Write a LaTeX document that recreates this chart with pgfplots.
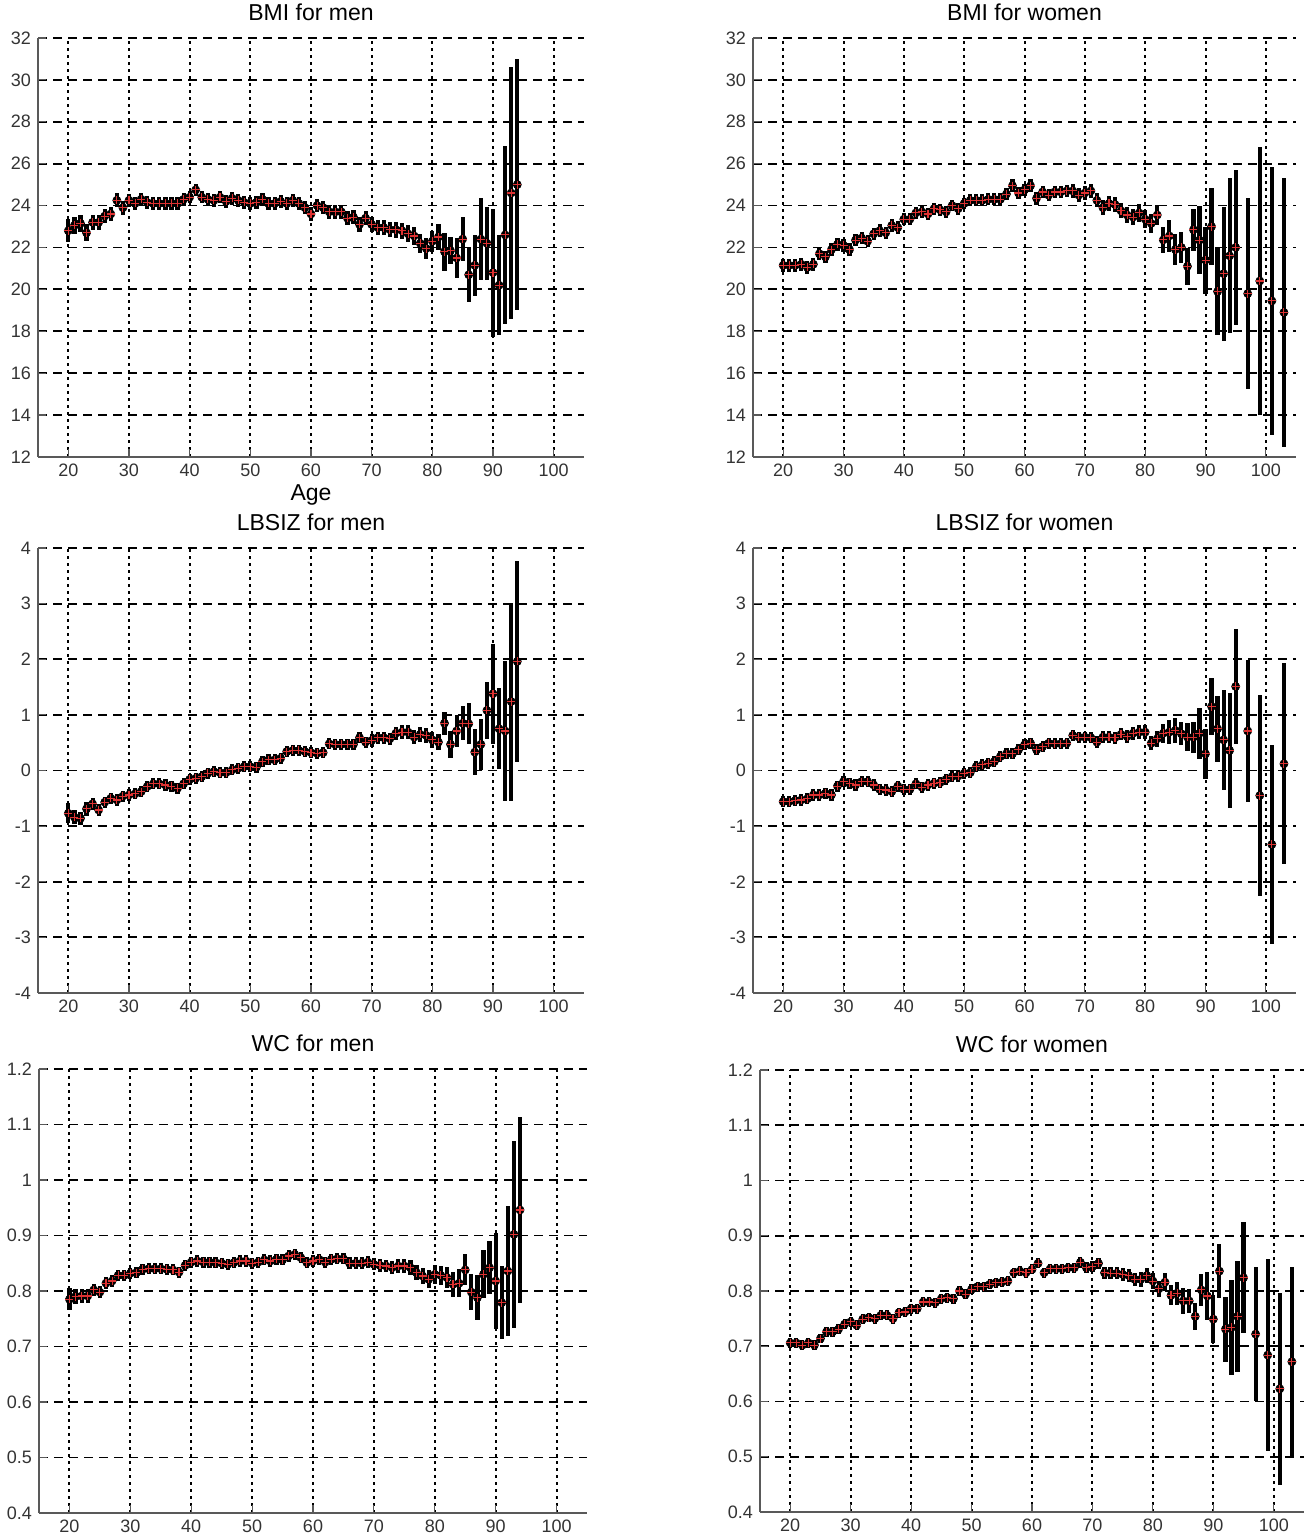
\documentclass[border=0pt]{standalone}
\usepackage{fontspec}
\setmainfont{Liberation Sans}
\usepackage{pgfplots}
\usepackage{pgfplotstable}
\pgfplotsset{compat=1.18}

% age, mean, half width of the interval
\pgfplotstableread{
a v e
20 22.8 0.55
21 23.05 0.42
22 23.15 0.4
23 22.7 0.4
24 23.2 0.36
25 23.2 0.36
26 23.5 0.35
27 23.6 0.35
28 24.25 0.33
29 23.9 0.33
30 24.25 0.32
31 24.1 0.32
32 24.3 0.3
33 24.15 0.3
34 24.1 0.3
35 24.1 0.3
36 24.1 0.3
37 24.1 0.3
38 24.1 0.3
39 24.3 0.3
40 24.4 0.3
41 24.75 0.3
42 24.4 0.3
43 24.3 0.3
44 24.25 0.3
45 24.4 0.3
46 24.2 0.3
47 24.35 0.3
48 24.25 0.3
49 24.15 0.3
50 24.1 0.3
51 24.15 0.3
52 24.3 0.3
53 24.1 0.3
54 24.1 0.3
55 24.2 0.3
56 24.1 0.3
57 24.25 0.3
58 24.1 0.3
59 23.9 0.32
60 23.6 0.32
61 24.0 0.32
62 23.9 0.32
63 23.7 0.32
64 23.7 0.32
65 23.7 0.32
66 23.4 0.34
67 23.45 0.34
68 23.1 0.34
69 23.4 0.34
70 23.1 0.35
71 22.95 0.35
72 22.95 0.36
73 22.85 0.36
74 22.85 0.38
75 22.8 0.38
76 22.65 0.4
77 22.55 0.42
78 22.2 0.46
79 21.95 0.5
80 22.3 0.5
81 22.5 0.6
82 21.8 0.9
83 21.85 0.65
84 21.5 0.95
85 22.4 1.05
86 20.7 1.3
87 21.15 1.45
88 22.4 1.95
89 22.2 1.75
90 20.8 3.05
91 20.2 2.4
92 22.6 4.25
93 24.6 6.0
94 25.0 6.0
}\bmimen

\pgfplotstableread{
a v e
20 21.15 0.32
21 21.15 0.32
22 21.15 0.3
23 21.2 0.3
24 21.05 0.3
25 21.2 0.3
26 21.7 0.3
27 21.55 0.3
28 21.9 0.3
29 22.15 0.3
30 22.1 0.3
31 21.9 0.3
32 22.35 0.3
33 22.45 0.3
34 22.3 0.3
35 22.65 0.3
36 22.8 0.3
37 22.7 0.3
38 23.05 0.3
39 22.95 0.3
40 23.35 0.3
41 23.35 0.28
42 23.65 0.28
43 23.7 0.28
44 23.6 0.28
45 23.85 0.28
46 23.8 0.28
47 23.7 0.28
48 24.0 0.28
49 23.85 0.28
50 24.1 0.28
51 24.25 0.28
52 24.25 0.28
53 24.25 0.28
54 24.3 0.28
55 24.3 0.28
56 24.3 0.28
57 24.55 0.3
58 24.95 0.3
59 24.6 0.3
60 24.75 0.3
61 24.95 0.3
62 24.35 0.3
63 24.65 0.3
64 24.5 0.3
65 24.65 0.3
66 24.65 0.3
67 24.7 0.3
68 24.7 0.32
69 24.5 0.32
70 24.6 0.32
71 24.7 0.32
72 24.25 0.34
73 23.9 0.35
74 24.1 0.35
75 24.05 0.35
76 23.75 0.36
77 23.55 0.38
78 23.45 0.38
79 23.65 0.42
80 23.35 0.42
81 23.15 0.46
82 23.55 0.5
83 22.36 0.6
84 22.55 0.75
85 21.9 0.75
86 22.0 0.74
87 21.1 0.88
88 22.85 1.0
89 22.35 1.63
90 21.4 1.6
91 23.0 1.83
92 19.9 2.1
93 20.75 3.2
94 21.6 3.7
95 22.0 3.7
97 19.8 4.55
99 20.4 6.4
101 19.45 6.4
103 18.9 6.4
}\bmiwomen

\pgfplotstableread{
a v e
20 -0.77 0.18
21 -0.84 0.13
22 -0.86 0.12
23 -0.69 0.12
24 -0.6 0.11
25 -0.71 0.11
26 -0.57 0.1
27 -0.5 0.1
28 -0.53 0.1
29 -0.46 0.1
30 -0.44 0.1
31 -0.42 0.1
32 -0.38 0.1
33 -0.29 0.1
34 -0.24 0.1
35 -0.24 0.1
36 -0.26 0.1
37 -0.28 0.1
38 -0.32 0.1
39 -0.24 0.1
40 -0.16 0.1
41 -0.14 0.1
42 -0.11 0.1
43 -0.05 0.1
44 -0.02 0.1
45 -0.04 0.1
46 -0.04 0.1
47 0.01 0.1
48 0.04 0.1
49 0.07 0.1
50 0.07 0.1
51 0.06 0.1
52 0.16 0.1
53 0.19 0.1
54 0.19 0.1
55 0.22 0.1
56 0.34 0.1
57 0.36 0.1
58 0.36 0.1
59 0.34 0.1
60 0.32 0.1
61 0.31 0.1
62 0.32 0.1
63 0.48 0.1
64 0.47 0.1
65 0.47 0.1
66 0.47 0.1
67 0.47 0.1
68 0.59 0.1
69 0.51 0.1
70 0.54 0.11
71 0.59 0.11
72 0.59 0.11
73 0.57 0.11
74 0.67 0.12
75 0.69 0.12
76 0.69 0.12
77 0.6 0.13
78 0.65 0.13
79 0.63 0.14
80 0.55 0.15
81 0.51 0.15
82 0.85 0.21
83 0.47 0.24
84 0.71 0.28
85 0.85 0.31
86 0.84 0.37
87 0.33 0.42
88 0.47 0.46
89 1.08 0.51
90 1.38 0.9
91 0.75 0.73
92 0.71 1.26
93 1.24 1.78
94 1.96 1.8
}\lbmen

\pgfplotstableread{
a v e
20 -0.56 0.1
21 -0.56 0.1
22 -0.54 0.1
23 -0.53 0.1
24 -0.51 0.1
25 -0.44 0.1
26 -0.44 0.1
27 -0.41 0.1
28 -0.44 0.1
29 -0.28 0.1
30 -0.2 0.1
31 -0.23 0.1
32 -0.26 0.1
33 -0.2 0.1
34 -0.2 0.1
35 -0.26 0.1
36 -0.34 0.1
37 -0.35 0.1
38 -0.38 0.1
39 -0.28 0.1
40 -0.34 0.1
41 -0.34 0.1
42 -0.24 0.1
43 -0.3 0.1
44 -0.26 0.1
45 -0.23 0.1
46 -0.22 0.1
47 -0.16 0.1
48 -0.11 0.1
49 -0.1 0.1
50 -0.05 0.1
51 -0.04 0.1
52 0.07 0.1
53 0.1 0.1
54 0.13 0.1
55 0.16 0.1
56 0.25 0.1
57 0.3 0.1
58 0.3 0.1
59 0.37 0.1
60 0.46 0.1
61 0.49 0.1
62 0.37 0.1
63 0.43 0.1
64 0.49 0.1
65 0.48 0.1
66 0.48 0.1
67 0.49 0.1
68 0.63 0.1
69 0.6 0.1
70 0.6 0.1
71 0.59 0.1
72 0.51 0.11
73 0.6 0.11
74 0.6 0.11
75 0.59 0.11
76 0.65 0.11
77 0.61 0.12
78 0.67 0.12
79 0.69 0.13
80 0.69 0.13
81 0.49 0.13
82 0.57 0.14
83 0.67 0.17
84 0.69 0.21
85 0.72 0.22
86 0.66 0.21
87 0.6 0.25
88 0.6 0.28
89 0.67 0.46
90 0.3 0.45
91 1.15 0.52
92 0.75 0.59
93 0.55 0.9
94 0.36 1.04
95 1.51 1.04
97 0.71 1.27
99 -0.45 1.8
101 -1.33 1.79
103 0.12 1.81
}\lbwomen

\pgfplotstableread{
a v e
20 0.785 0.02
21 0.79 0.014
22 0.791 0.013
23 0.791 0.012
24 0.802 0.011
25 0.798 0.011
26 0.814 0.011
27 0.818 0.011
28 0.828 0.01
29 0.828 0.01
30 0.832 0.01
31 0.833 0.01
32 0.839 0.01
33 0.84 0.01
34 0.84 0.01
35 0.84 0.01
36 0.839 0.01
37 0.838 0.01
38 0.834 0.01
39 0.846 0.01
40 0.852 0.01
41 0.854 0.01
42 0.852 0.01
43 0.852 0.01
44 0.851 0.01
45 0.85 0.01
46 0.848 0.01
47 0.851 0.01
48 0.854 0.01
49 0.854 0.01
50 0.85 0.01
51 0.852 0.01
52 0.856 0.01
53 0.854 0.01
54 0.857 0.01
55 0.856 0.01
56 0.863 0.01
57 0.866 0.01
58 0.86 0.01
59 0.851 0.01
60 0.854 0.01
61 0.857 0.01
62 0.852 0.01
63 0.857 0.01
64 0.858 0.01
65 0.858 0.01
66 0.85 0.011
67 0.85 0.011
68 0.85 0.011
69 0.852 0.011
70 0.848 0.011
71 0.846 0.011
72 0.845 0.011
73 0.842 0.012
74 0.845 0.012
75 0.845 0.013
76 0.842 0.013
77 0.833 0.014
78 0.827 0.015
79 0.821 0.016
80 0.83 0.017
81 0.828 0.017
82 0.824 0.019
83 0.812 0.022
84 0.814 0.025
85 0.838 0.028
86 0.798 0.033
87 0.788 0.04
88 0.83 0.043
89 0.842 0.048
90 0.818 0.086
91 0.779 0.066
92 0.836 0.117
93 0.902 0.169
94 0.946 0.167
}\wcmen

\pgfplotstableread{
a v e
20 0.706 0.009
21 0.706 0.009
22 0.702 0.009
23 0.706 0.009
24 0.702 0.009
25 0.714 0.009
26 0.726 0.009
27 0.726 0.009
28 0.731 0.009
29 0.74 0.009
30 0.744 0.009
31 0.738 0.009
32 0.749 0.009
33 0.752 0.009
34 0.75 0.009
35 0.756 0.009
36 0.756 0.009
37 0.75 0.009
38 0.761 0.009
39 0.762 0.009
40 0.768 0.009
41 0.768 0.009
42 0.78 0.009
43 0.78 0.009
44 0.779 0.009
45 0.786 0.009
46 0.788 0.009
47 0.786 0.009
48 0.8 0.009
49 0.794 0.009
50 0.803 0.009
51 0.808 0.009
52 0.808 0.009
53 0.812 0.009
54 0.815 0.009
55 0.816 0.009
56 0.818 0.009
57 0.833 0.009
58 0.836 0.009
59 0.833 0.009
60 0.839 0.009
61 0.85 0.009
62 0.833 0.009
63 0.84 0.009
64 0.84 0.009
65 0.84 0.009
66 0.842 0.009
67 0.842 0.009
68 0.852 0.01
69 0.842 0.01
70 0.844 0.01
71 0.85 0.01
72 0.833 0.011
73 0.832 0.011
74 0.832 0.011
75 0.83 0.011
76 0.828 0.012
77 0.821 0.012
78 0.821 0.013
79 0.828 0.014
80 0.818 0.015
81 0.804 0.015
82 0.816 0.016
83 0.792 0.018
84 0.796 0.021
85 0.782 0.023
86 0.782 0.022
87 0.754 0.024
88 0.802 0.029
89 0.791 0.044
90 0.749 0.044
91 0.836 0.049
92 0.731 0.059
93 0.734 0.086
94 0.754 0.1
95 0.824 0.1
97 0.722 0.122
99 0.684 0.174
101 0.623 0.174
103 0.672 0.172
}\wcwomen

\definecolor{ptred}{RGB}{220,50,50}

\pgfplotsset{
  panel/.style={
    scale only axis,
    anchor=south west,
    xmin=15, xmax=105,
    xtick={20,30,...,100},
    axis lines*=left,
    axis line style={black!65, line width=0.9pt},
    tick align=inside,
    major tick length=4pt,
    tick style={black!65, line width=0.6pt},
    grid=major,
    x grid style={black, line width=1pt, dash pattern=on 1.3pt off 2.2pt},
    y grid style={black, line width=0.9pt, dash pattern=on 4.5pt off 3pt},
    ticklabel style={font=\fontsize{9}{10}\selectfont, text=black!80},
    /pgf/number format/assume math mode=true,
    title style={font=\fontsize{11.5}{13}\selectfont, yshift=-1pt},
    label style={font=\fontsize{11.5}{13}\selectfont},
    clip=false,
  },
  bars/.style={only marks, mark=none,
    error bars/.cd, y dir=both, y explicit, error mark=none,
    error bar style={line width=2.1pt, black}},
  pts/.style={only marks, mark=+, mark size=2pt,
    mark options={ptred, line width=0.55pt}},
}

\begin{document}
\begin{tikzpicture}
\useasboundingbox (0,0) rectangle (654.5pt,768pt);

\begin{axis}[panel, at={(19pt,539.5pt)}, width=273pt, height=209.5pt,
  ymin=12, ymax=32, ytick={12,14,...,32},
  title={BMI for men}, xlabel={Age}, xlabel style={yshift=3pt}]
\addplot[bars] table[x=a, y=v, y error=e]{\bmimen};
\addplot[pts] table[x=a, y=v]{\bmimen};
\end{axis}

\begin{axis}[panel, at={(376.5pt,539.5pt)}, width=271.5pt, height=209.5pt,
  ymin=12, ymax=32, ytick={12,14,...,32},
  title={BMI for women}]
\addplot[bars] table[x=a, y=v, y error=e]{\bmiwomen};
\addplot[pts] table[x=a, y=v]{\bmiwomen};
\end{axis}

\begin{axis}[panel, at={(19pt,271.5pt)}, width=273pt, height=222.5pt,
  ymin=-4, ymax=4, ytick={-4,-3,...,4},
  title={LBSIZ for men}]
\addplot[bars] table[x=a, y=v, y error=e]{\lbmen};
\addplot[pts] table[x=a, y=v]{\lbmen};
\end{axis}

\begin{axis}[panel, at={(376.5pt,271.5pt)}, width=271.5pt, height=222.5pt,
  ymin=-4, ymax=4, ytick={-4,-3,...,4},
  title={LBSIZ for women}]
\addplot[bars] table[x=a, y=v, y error=e]{\lbwomen};
\addplot[pts] table[x=a, y=v]{\lbwomen};
\end{axis}

\begin{axis}[panel, at={(19.5pt,11.5pt)}, width=274pt, height=222pt,
  ymin=0.4, ymax=1.2, ytick={0.4,0.5,0.6,0.7,0.8,0.9,1,1.1,1.2},
  title={WC for men}]
\addplot[bars] table[x=a, y=v, y error=e]{\wcmen};
\addplot[pts] table[x=a, y=v]{\wcmen};
\end{axis}

\begin{axis}[panel, at={(380pt,12pt)}, width=272pt, height=221pt,
  ymin=0.4, ymax=1.2, ytick={0.4,0.5,0.6,0.7,0.8,0.9,1,1.1,1.2},
  title={WC for women}]
\addplot[bars] table[x=a, y=v, y error=e]{\wcwomen};
\addplot[pts] table[x=a, y=v]{\wcwomen};
\end{axis}
\end{tikzpicture}
\end{document}
